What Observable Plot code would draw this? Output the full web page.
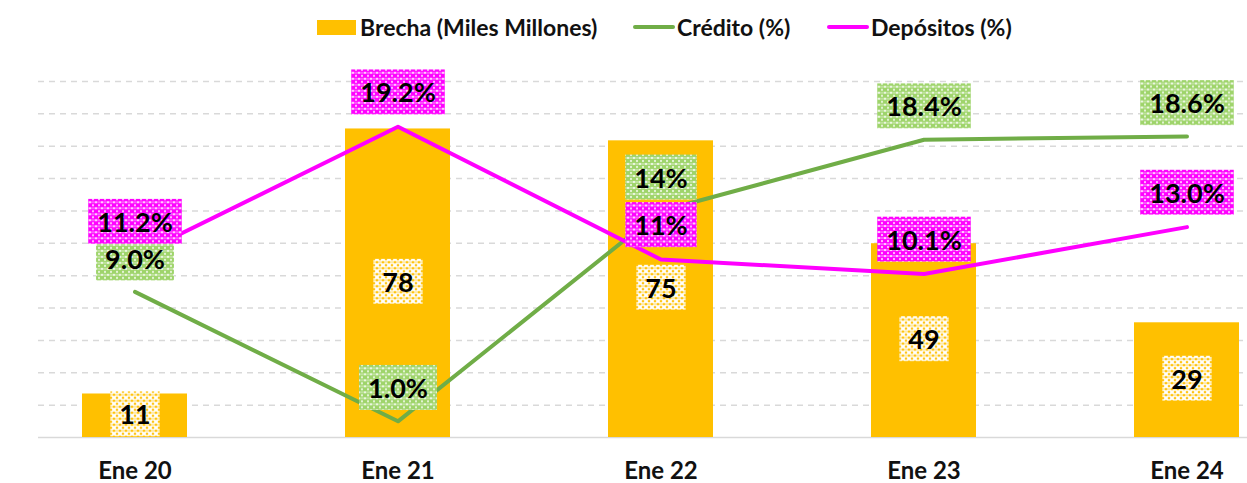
<!DOCTYPE html>
<html><head><meta charset="utf-8">
<script src="https://cdn.jsdelivr.net/npm/d3@7"></script>
<script src="https://cdn.jsdelivr.net/npm/@observablehq/plot@0.6"></script>
<style>
body{margin:0;background:#fff;font-family:Lato,"Open Sans",sans-serif;}
#legend{position:relative;height:50px;width:1247px;}
#legend .item{position:absolute;top:15px;height:24px;display:flex;align-items:center;font-weight:700;font-size:23px;color:#111;line-height:24px;white-space:nowrap;}
#legend .sw{display:inline-block;margin-right:4px;}
#chart svg{display:block;}
</style></head><body>
<div id="legend"></div>
<div id="chart"></div>
<script>
const categories = ["Ene 20","Ene 21","Ene 22","Ene 23","Ene 24"];
const brecha = [11, 78, 75, 49, 29];
const credito = [9.0, 1.0, 14, 18.4, 18.6];
const depositos = [11.2, 19.2, 11, 10.1, 13.0];
const brechaLabels = ["11","78","75","49","29"];
const creditoLabels = ["9.0%","1.0%","14%","18.4%","18.6%"];
const depositosLabels = ["11.2%","19.2%","11%","10.1%","13.0%"];
const seriesNames = ["Brecha (Miles Millones)","Crédito (%)","Depósitos (%)"];
const seriesColors = ["#FFC000","#70AD47","#FF00FF"];
const brechaMax = 90;
const pctMax = 22;
const gridTicks = d3.range(2, 23, 2);

// Legend
const legendLeft = [317, 633, 827];
const legend = d3.select("#legend");
seriesNames.forEach((name, i) => {
  const it = legend.append("div").attr("class","item").style("left", legendLeft[i]+"px");
  const sw = it.append("span").attr("class","sw");
  if (i === 0) sw.style("width","39px").style("height","15px").style("background",seriesColors[i]);
  else sw.style("width","42px").style("height","4px").style("background",seriesColors[i]).style("border-radius","2px").style("margin-right","2px");
  it.append("span").text(name);
});

const data = categories.map((c, i) => ({
  cat: c, brecha: brecha[i], credito: credito[i], depositos: depositos[i],
  bl: brechaLabels[i], cl: creditoLabels[i], dl: depositosLabels[i]
}));
const k = pctMax / brechaMax;
const labelFont = {fontSize: 27, fontWeight: 700, fill: "#000", fontFamily: "Lato"};

const plot = Plot.plot({
  width: 1247, height: 433,
  marginTop: 31, marginBottom: 46, marginLeft: 38, marginRight: 0,
  style: {fontFamily: "Lato", background: "#fff", overflow: "visible"},
  x: {domain: categories, range: [1, 1320], paddingInner: 0.6, paddingOuter: 0.3, label: null},
  y: {domain: [0, pctMax], axis: null},
  marks: [
    Plot.ruleY(gridTicks, {stroke: "#d9d9d9", strokeWidth: 1.5, strokeDasharray: "6,5"}),
    Plot.ruleY([0], {stroke: "#d9d9d9", strokeWidth: 1.5}),
    Plot.barY(data, {x: "cat", y: d => d.brecha * k, fill: seriesColors[0]}),
    Plot.line(data, {x: "cat", y: "credito", stroke: seriesColors[1], strokeWidth: 4, strokeLinejoin: "round", strokeLinecap: "round"}),
    Plot.line(data, {x: "cat", y: "depositos", stroke: seriesColors[2], strokeWidth: 4, strokeLinejoin: "round", strokeLinecap: "round"}),
    Plot.text(data, {x: "cat", y: d => d.brecha * k / 2, text: "bl", ...labelFont}),
    Plot.text(data, {x: "cat", y: "credito", dy: -32, text: "cl", ...labelFont}),
    Plot.text(data, {x: "cat", y: "depositos", dy: -33, text: "dl", ...labelFont}),
    Plot.axisX({tickSize: 0, tickPadding: 24, fontSize: 24, fontWeight: 700, fill: "#111", label: null, fontFamily: "Lato"})
  ]
});
document.getElementById("chart").appendChild(plot);

// Patterned label backgrounds
const svg = d3.select(plot);
const defs = svg.insert("defs", ":first-child");
function mkPat(id, base, fg, r) {
  const p = defs.append("pattern").attr("id", id).attr("patternUnits", "userSpaceOnUse").attr("width", 6).attr("height", 6);
  p.append("rect").attr("width", 6).attr("height", 6).attr("fill", base);
  p.append("path").attr("d", `M3,${3-r}L${3+r},3L3,${3+r}L${3-r},3Z`).attr("fill", fg);
  p.append("path").attr("d", `M0,${-r}L${r},0L0,${r}L${-r},0Z M6,${-r}L${6+r},0L6,${r}L${6-r},0Z M0,${6-r}L${r},6L0,${6+r}L${-r},6Z M6,${6-r}L${6+r},6L6,${6+r}L${6-r},6Z`).attr("fill", fg);
  p.append("rect").attr("x", 0).attr("y", 2.6).attr("width", 6).attr("height", 0.8).attr("fill", fg).attr("opacity", 0.8);
}
mkPat("pat-b", "#ffffff", "#FFC000", 1.6);
mkPat("pat-c", "#9ED46A", "#ffffff", 1.2);
mkPat("pat-d", "#FF00FF", "#ffffff", 1.2);

const textGroups = svg.selectAll('g[aria-label="text"]').nodes();
const pats = ["pat-b", "pat-c", "pat-d"];
textGroups.forEach((g, gi) => {
  d3.select(g).selectAll("text").each(function() {
    const b = this.getBBox();
    const cy = b.y + b.height / 2;
    const r = document.createElementNS("http://www.w3.org/2000/svg", "rect");
    this.parentNode.insertBefore(r, this);
    const tr = this.getAttribute("transform");
    d3.select(r)
      .attr("x", b.x - 9).attr("width", b.width + 18)
      .attr("y", cy - 22.5).attr("height", 45)
      .attr("transform", tr)
      .attr("fill", `url(#${pats[gi]})`);
  });
});
</script>
</body></html>
